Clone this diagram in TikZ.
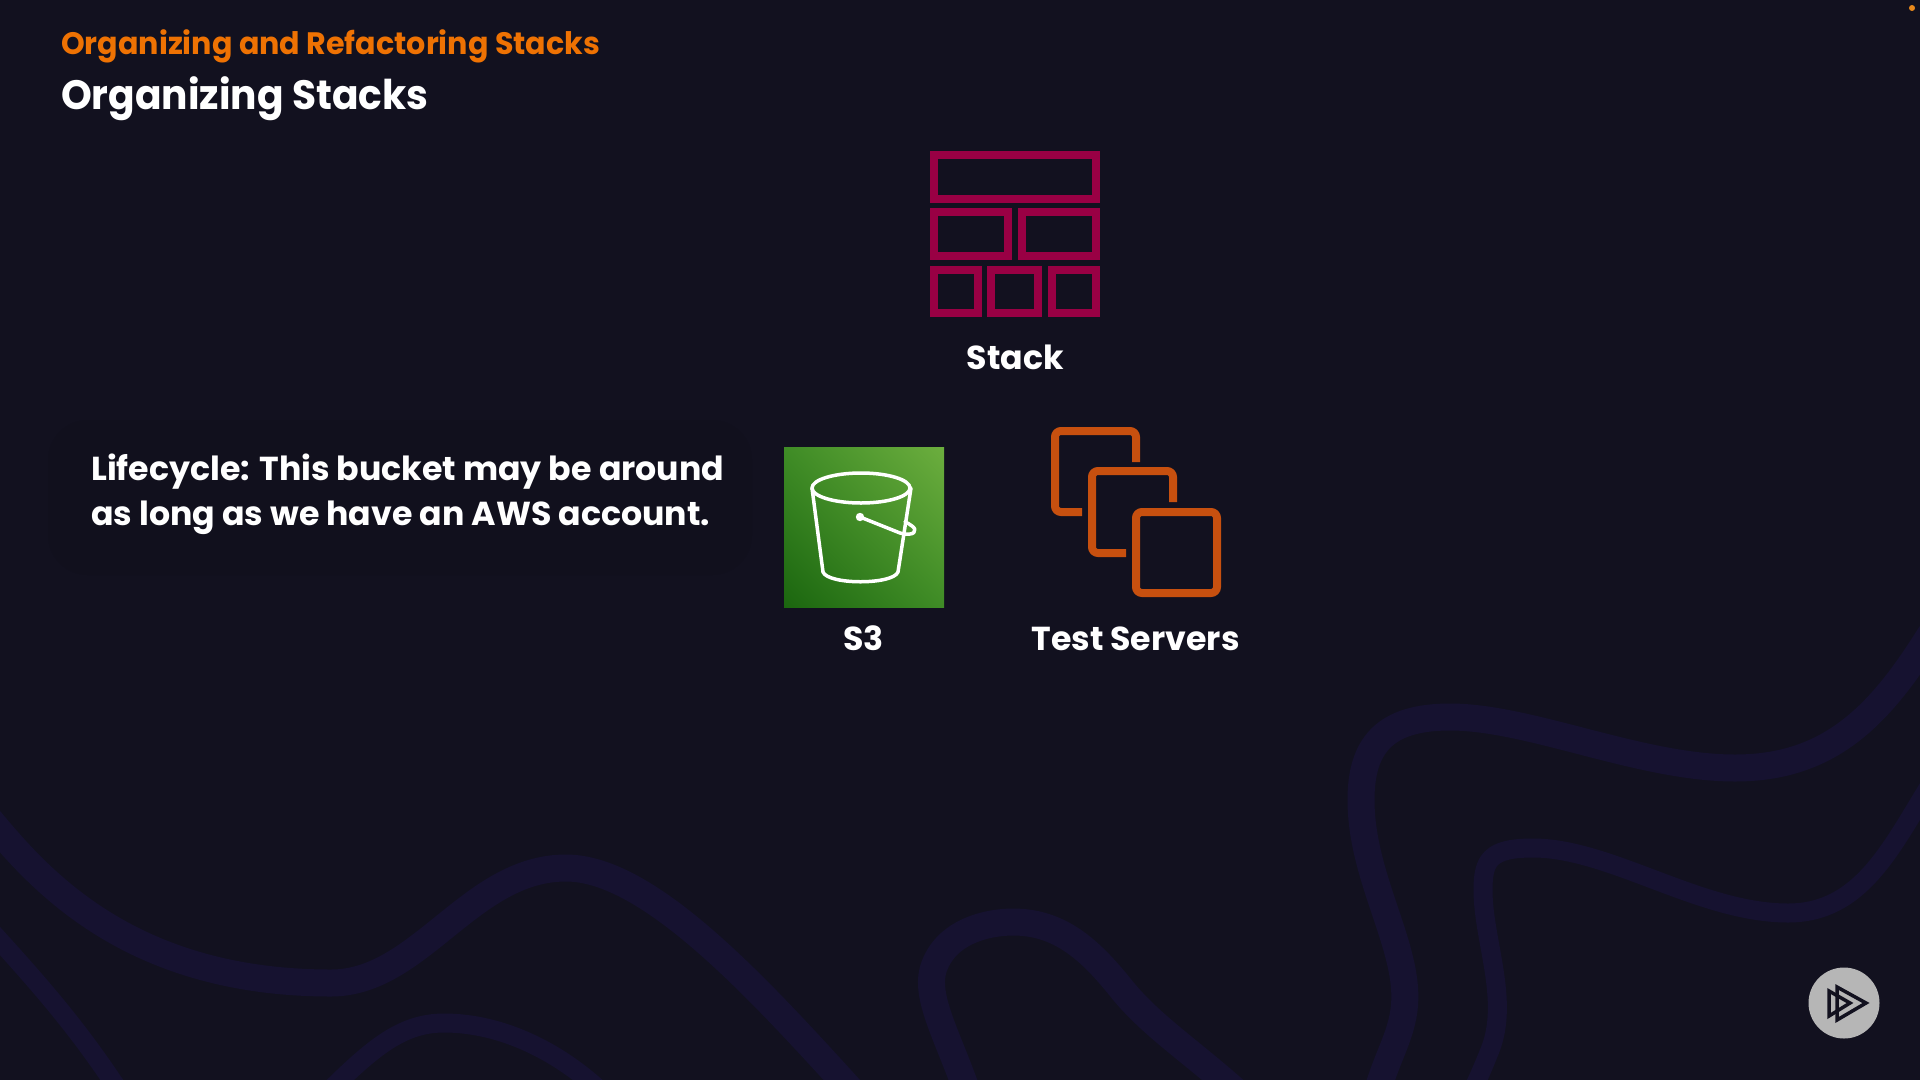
\documentclass[tikz,border=0pt]{standalone}
\usepackage{fontspec}
\setmainfont{Poppins}
\newfontfamily\ttlfont[FakeStretch=0.955]{Poppins}
\newfontfamily\sectfont[FakeStretch=0.973]{Poppins}
\usetikzlibrary{shadings}
\definecolor{bgc}{HTML}{12111F}
\definecolor{wave}{HTML}{161230}
\definecolor{halo}{HTML}{11101D}
\definecolor{stackc}{HTML}{990044}
\definecolor{serverc}{HTML}{C7500F}
\definecolor{titleo}{HTML}{EE7203}
\definecolor{sthree}{HTML}{3F8C26}
\definecolor{sdark}{HTML}{1B660F}
\definecolor{slight}{HTML}{6CAE3E}
\definecolor{playc}{HTML}{B6B6B6}
\definecolor{dotc}{HTML}{E8891C}
\tikzset{
 lbl/.style={text=white,font=\bfseries\fontsize{33.2}{40}\selectfont,inner sep=0pt},
 brick/.style={draw=stackc,line width=8pt,fill=none},
 srv/.style={draw=serverc,line width=8pt,rounded corners=6pt,line cap=butt},
 buck/.style={draw=white,line width=3.5pt,line join=round,line cap=round},
 wv/.style={draw=wave,line width=27pt,line cap=round,line join=round},
 wvthin/.style={draw=wave,line width=19pt,line cap=round,line join=round},
}
\begin{document}
\begin{tikzpicture}[x=1pt,y=-1pt]
\useasboundingbox (0,0) rectangle (1920,1079.8);
\fill[bgc] (-4,-4) rectangle (1924,1084);
\draw[wv] (-10,820) .. controls (40,880) and (130,983) .. (331,983) .. controls (420,983) and (470,868) .. (566,868) .. controls (650,868) and (760,990) .. (860,1100);
\draw[wvthin] (-10,930) .. controls (40,985) and (80,1030) .. (125,1100);
\draw[wvthin] (320,1100) .. controls (370,1050) and (400,1023) .. (444,1023) .. controls (500,1023) and (560,1050) .. (610,1100);
\draw[wv] (970,1100) .. controls (950,1040) and (925,1000) .. (933,970) .. controls (945,930) and (990,922) .. (1013,922) .. controls (1060,922) and (1090,950) .. (1120,987) .. controls (1150,1025) and (1190,1050) .. (1240,1095);
\draw[wv] (1930,635) .. controls (1880,715) and (1830,768) .. (1735,768) .. controls (1640,768) and (1530,717) .. (1450,717) .. controls (1385,717) and (1361,745) .. (1361,800) .. controls (1361,880) and (1412,950) .. (1404,1010) .. controls (1400,1040) and (1385,1060) .. (1375,1100);
\draw[wvthin] (1930,785) .. controls (1890,850) and (1860,913) .. (1788,913) .. controls (1700,913) and (1610,848) .. (1533,848) .. controls (1490,848) and (1483,860) .. (1483,890) .. controls (1483,940) and (1510,1000) .. (1490,1050) .. controls (1480,1075) and (1475,1085) .. (1468,1100);
\fill[halo,rounded corners=40pt] (48,420) rectangle (752,575);
\node[anchor=base west,text=titleo,font=\sectfont\bfseries\fontsize{31}{36}\selectfont,inner sep=0pt] (sect) at (61,54) {Organizing and Refactoring Stacks};
\node[anchor=base west,text=white,font=\ttlfont\bfseries\fontsize{41}{48}\selectfont,inner sep=0pt] (ttl) at (61,109.5) {Organizing Stacks};
% stack icon
\draw[brick] (934,155) rectangle (1096,199);
\draw[brick] (934,212) rectangle (1008,256);
\draw[brick] (1022,212) rectangle (1096,256);
\draw[brick] (934,270) rectangle (978,313);
\draw[brick] (991,270) rectangle (1038,313);
\draw[brick] (1052,270) rectangle (1096,313);
\node[lbl,anchor=base] (stack) at (1015.5,369) {Stack};
% lifecycle
\node[lbl,anchor=base west] (l1) at (91,480) {Lifecycle: This bucket may be around};
\node[lbl,anchor=base west] (l2) at (91,525) {as long as we have an AWS account.};
% S3
\shade[lower left=sdark,upper right=slight,lower right=sthree,upper left=sthree] (784,447) rectangle (944,607);
\draw[buck] (861,488) ellipse [x radius=49,y radius=15];
\draw[buck] (812,488) -- (823,572) .. controls (828,585) and (893,585) .. (898,572) -- (911,488);
\fill[white] (860,517) circle (4.2);
\draw[buck] (860,517) -- (900,533) .. controls (915,537) and (918,530) .. (912,526) .. controls (910,524) and (907,523) .. (905,522);
\node[lbl,anchor=base] (s3) at (863.5,650) {S3};
% servers
\draw[srv] (1136,462) -- (1136,431) -- (1055,431) -- (1055,512) -- (1082,512);
\draw[srv] (1173,502) -- (1173,471) -- (1092,471) -- (1092,553) -- (1126,553);
\draw[srv] (1136,512) rectangle (1217,593);
\node[lbl,anchor=base] (srvl) at (1135.5,650) {Test Servers};
% play
\fill[playc] (1844,1003) circle (35.5);
\draw[bgc,line width=3.5pt,miter limit=10] (1837,987) -- (1866,1003) -- (1837,1020) -- cycle;
\draw[bgc,line width=3.5pt,miter limit=10] (1829,991) -- (1850,1003) -- (1829,1016) -- cycle;
\fill[dotc] (1912,8) circle (3);
\end{tikzpicture}
\end{document}
